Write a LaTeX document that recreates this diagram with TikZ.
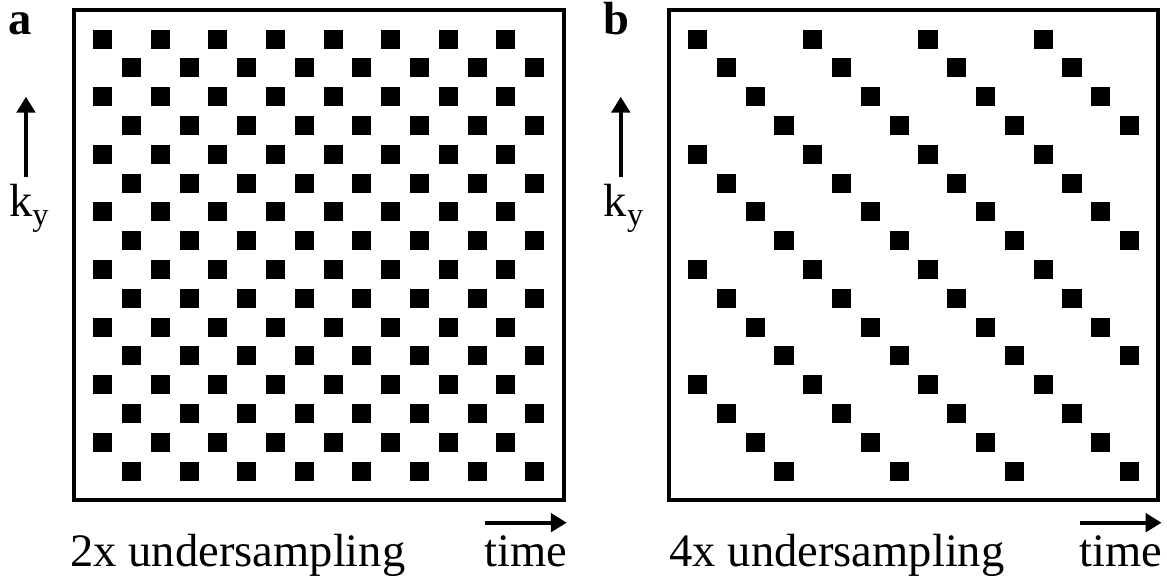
\documentclass[tikz,border=0pt]{standalone}
\usepackage{fontspec}
\setmainfont{Liberation Serif}
\usetikzlibrary{arrows.meta}

\tikzset{
  panelframe/.style={line width=3.8pt},
  sample/.style={fill=black},
  axisarrow/.style={line width=3.6pt, -{Triangle[length=0.55cm,width=0.64cm]}},
  paneltext/.style={inner sep=0pt, anchor=base west, font=\fontsize{46}{50}\selectfont},
  panelletter/.style={paneltext, font=\fontsize{46}{50}\selectfont\bfseries},
}
\newcommand{\kyaxis}{k\raisebox{-0.2em}{\fontsize{32}{34}\selectfont y}}

\begin{document}
\begin{tikzpicture}
\useasboundingbox (0,0) rectangle (40.521,20.035);
%----------------- Panel (a): 2x undersampling -----------------
\begin{scope}[shift={(2.569,2.674)}]
\draw[panelframe] (0,0) rectangle (17,17);
% sampled ky lines, every 2nd line shifted by one per frame
\foreach \r in {0,...,15}
  \foreach \c in {0,...,15}{
    \pgfmathtruncatemacro{\m}{mod(\c-\r+16,2)}
    \ifnum\m=0 \fill[sample] ({\c+0.67},{15.67-\r}) rectangle ++(0.66,0.66);\fi
  }
\node[panelletter] (laba) at (-2.29,16.146) {a};
% ky axis
\node[paneltext] (kya) at (-2.26,9.84) {\kyaxis};
\coordinate (kyafoot) at (-1.667,11.23);
\coordinate (kyatip) at (-1.667,14.0);
\draw[axisarrow] (kyafoot) -- (kyatip);
% time axis
\node[paneltext] (capa) at (-0.128,-2.316) {2x undersampling};
\node[paneltext, anchor=base east] (timea) at (17.14,-2.316) {time};
\coordinate (timeafoot) at (14.27,-0.788);
\coordinate (timeatip) at (17.108,-0.788);
\draw[axisarrow] (timeafoot) -- (timeatip);
\end{scope}
%----------------- Panel (b): 4x undersampling -----------------
\begin{scope}[shift={(23.222,2.674)}]
\draw[panelframe] (0,0) rectangle (17,17);
% sampled ky lines, every 4th line shifted by one per frame
\foreach \r in {0,...,15}
  \foreach \c in {0,...,15}{
    \pgfmathtruncatemacro{\m}{mod(\c-\r+16,4)}
    \ifnum\m=0 \fill[sample] ({\c+0.67},{15.67-\r}) rectangle ++(0.66,0.66);\fi
  }
\node[panelletter] (labb) at (-2.29,16.146) {b};
% ky axis
\node[paneltext] (kyb) at (-2.26,9.84) {\kyaxis};
\coordinate (kybfoot) at (-1.667,11.23);
\coordinate (kybtip) at (-1.667,14.0);
\draw[axisarrow] (kybfoot) -- (kybtip);
% time axis
\node[paneltext] (capb) at (0.02,-2.316) {4x undersampling};
\node[paneltext, anchor=base east] (timeb) at (17.14,-2.316) {time};
\coordinate (timebfoot) at (14.27,-0.788);
\coordinate (timebtip) at (17.108,-0.788);
\draw[axisarrow] (timebfoot) -- (timebtip);
\end{scope}
\end{tikzpicture}
\end{document}
